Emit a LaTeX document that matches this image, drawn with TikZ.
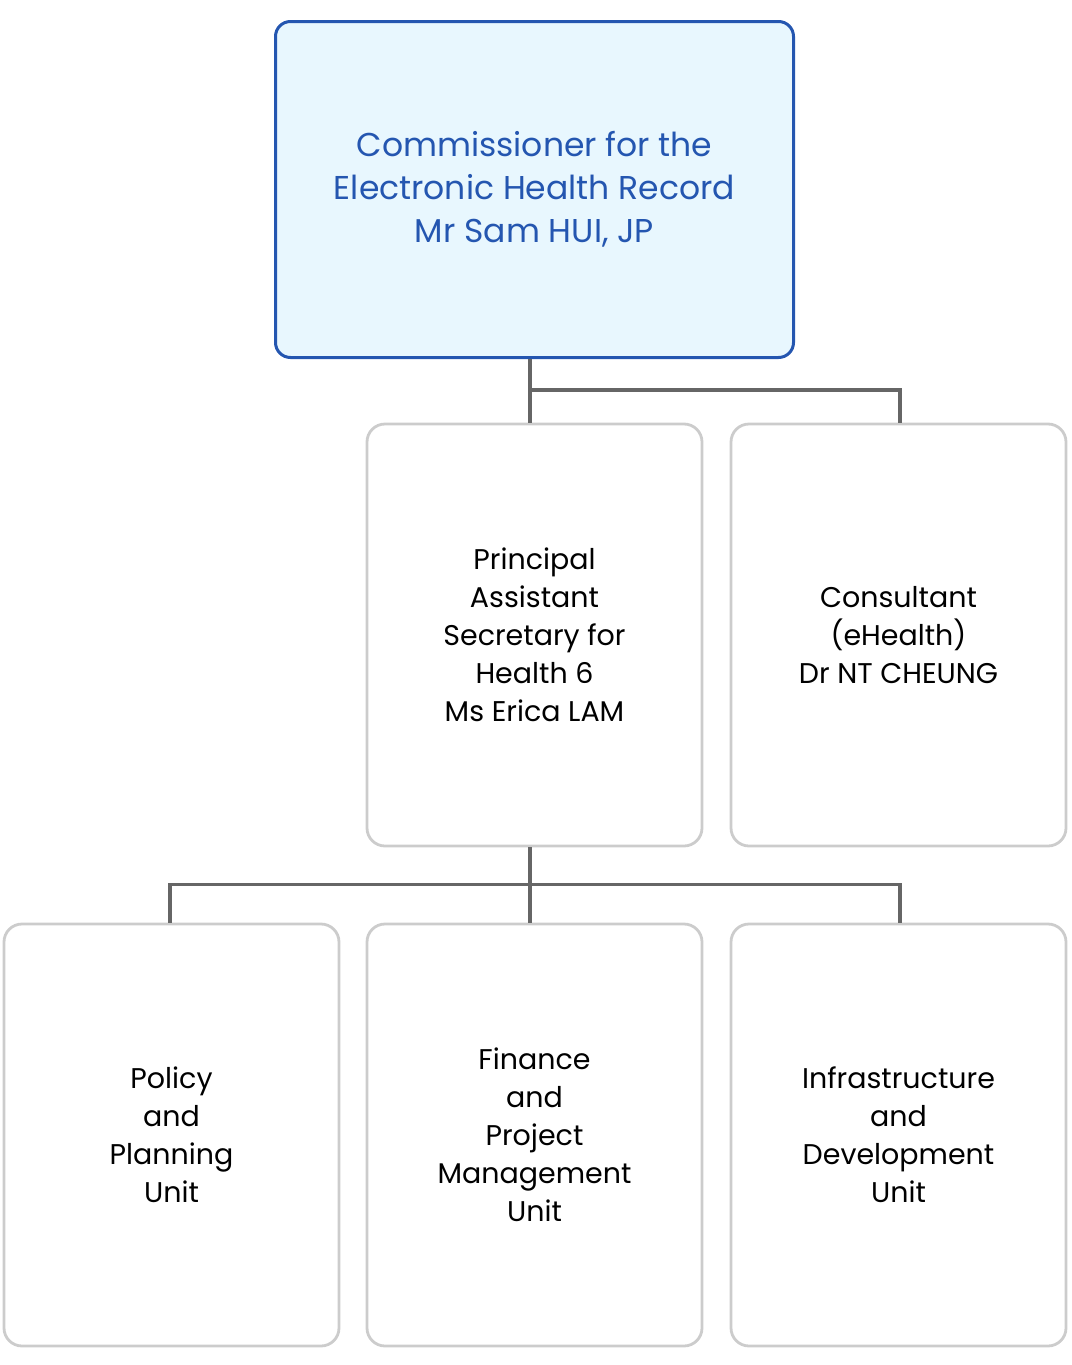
\documentclass[tikz,border=0pt]{standalone}
\usepackage{fontspec}
\setmainfont{Poppins}
\definecolor{topblue}{HTML}{2456B0}
\definecolor{topfill}{HTML}{E8F7FE}
\definecolor{boxgray}{HTML}{CCCCCC}
\definecolor{linegray}{HTML}{666666}
\begin{document}
\begin{tikzpicture}[x=1pt,y=-1pt,
  topbox/.style={draw=topblue,fill=topfill,line width=3pt,rounded corners=15pt,
    minimum width=518pt,minimum height=336pt,align=center,text=topblue,
    font=\fontsize{33}{43}\selectfont,inner sep=0pt},
  unitbox/.style={draw=boxgray,fill=white,line width=2.8pt,rounded corners=18pt,
    minimum width=335pt,minimum height=422pt,align=center,text=black,
    font=\fontsize{28.5}{38}\selectfont,inner sep=0pt},
  conn/.style={draw=linegray,line width=3.2pt}]
\useasboundingbox (0,0) rectangle (1071,1365);
\node[topbox] (top) at (534.5,189.5) {Commissioner for the\\Electronic Health Record\\Mr Sam HUI, JP};
\node[unitbox] (pas) at (534.5,635) {Principal\\Assistant\\Secretary for\\Health 6\\Ms Erica LAM};
\node[unitbox] (cons) at (898.5,635) {Consultant\\(eHealth)\\Dr NT CHEUNG};
\node[unitbox] (pol) at (171.5,1135) {Policy\\and\\Planning\\Unit};
\node[unitbox] (fin) at (534.5,1135) {Finance\\and\\Project\\Management\\Unit};
\node[unitbox] (inf) at (898.5,1135) {Infrastructure\\and\\Development\\Unit};
\draw[conn] ([xshift=-4.5pt]top.south) -- ([xshift=-4.5pt]pas.north);
\draw[conn] ([xshift=-4.5pt]top.south) -- ++(0,31) coordinate (b1) -| ([xshift=1.5pt]cons.north);
\draw[conn] ([xshift=-4.5pt]pas.south) -- ([xshift=-4.5pt]fin.north);
\draw[conn] ([xshift=-4.5pt]pas.south) -- ++(0,37) coordinate (b2);
\draw[conn] (b2) -| ([xshift=-1.5pt]pol.north);
\draw[conn] (b2) -| ([xshift=1.5pt]inf.north);
\end{tikzpicture}
\end{document}
